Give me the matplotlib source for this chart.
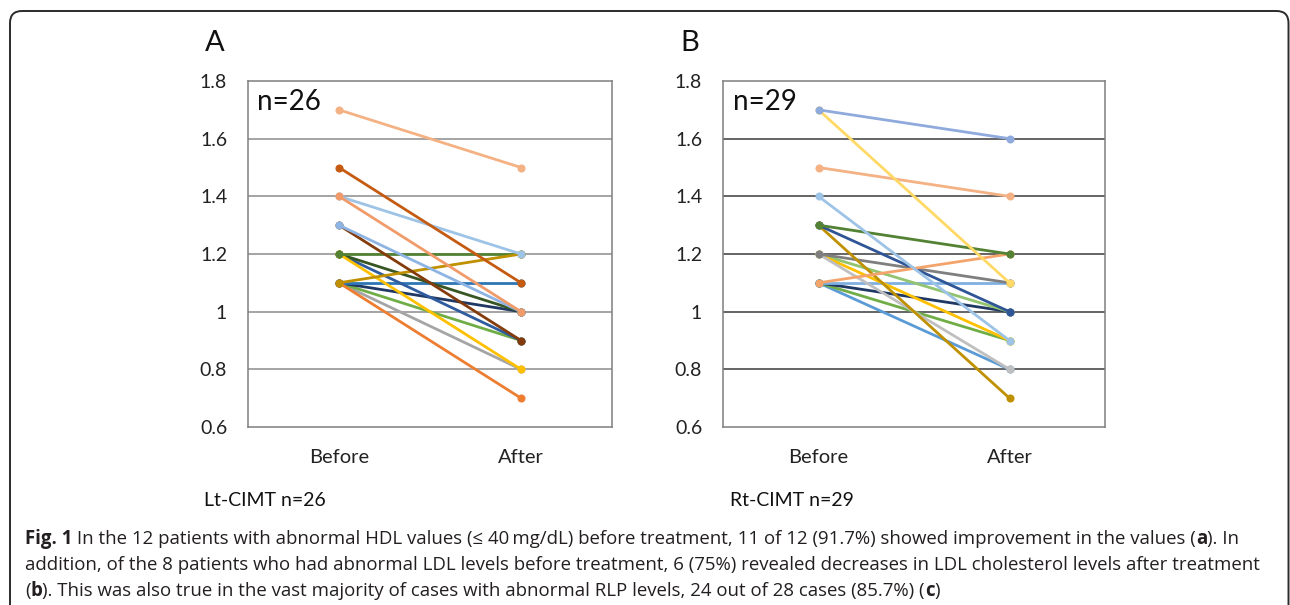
import matplotlib
matplotlib.use('Agg')
import matplotlib.pyplot as plt
from matplotlib.patches import FancyBboxPatch
import numpy as np

# panel A (Lt-CIMT) : before / after values of each visible line
a_before = [1.1, 1.1, 1.1, 1.1, 1.2, 1.2, 1.2, 1.2, 1.1, 1.1, 1.3, 1.3, 1.4, 1.4, 1.5, 1.7]
a_after  = [0.8, 0.9, 1.0, 1.1, 0.9, 1.0, 0.8, 1.2, 0.7, 1.2, 0.9, 1.0, 1.2, 1.0, 1.1, 1.5]
a_colors = ['#A5A5A5', '#70AD47', '#1F3864', '#2E75B6', '#2E5C9E', '#375623', '#FFC000', '#548235',
            '#ED7D31', '#BF9000', '#843C0C', '#8EB4E3', '#9DC3E6', '#F19B6A', '#C55A11', '#F4B183']

# panel B (Rt-CIMT)
b_before = [1.1, 1.1, 1.1, 1.1, 1.2, 1.2, 1.2, 1.2, 1.3, 1.3, 1.1, 1.3, 1.4, 1.5, 1.7, 1.7]
b_after  = [0.8, 0.9, 1.0, 1.1, 1.0, 0.9, 0.8, 1.1, 0.7, 1.0, 1.2, 1.2, 0.9, 1.4, 1.1, 1.6]
b_colors = ['#5B9BD5', '#70AD47', '#1F3864', '#7FB0E0', '#92C36E', '#FFC000', '#BFBFBF', '#7F7F7F',
            '#BF9000', '#2F5597', '#F4A46B', '#548235', '#9DC3E6', '#F4B183', '#FFD966', '#8FAADC']

categories = ['Before', 'After']
yticks = [0.6, 0.8, 1.0, 1.2, 1.4, 1.6, 1.8]
yticklabels = ['0.6', '0.8', '1', '1.2', '1.4', '1.6', '1.8']

W, H = 1290, 605
fig = plt.figure(figsize=(W/100, H/100), dpi=100)
lab_font = ['Lato', 'DejaVu Sans']
cap_font = ['Open Sans', 'DejaVu Sans']

def panel(rect, before, after, colors, gridcol, ntext):
    ax = fig.add_axes(rect)
    xpos = np.arange(len(categories))
    for b, a, c in zip(before, after, colors):
        ax.plot(xpos, [b, a], color=c, lw=2.0, marker='o', ms=4.8, mec=c, mfc=c, zorder=3,
                solid_capstyle='round')
    ax.set_xlim(-0.5, 1.5)
    ax.set_ylim(0.6, 1.8)
    ax.set_yticks(yticks)
    ax.set_yticklabels(yticklabels, family=lab_font, fontsize=14)
    ax.set_xticks(xpos)
    ax.set_xticklabels(categories, family=lab_font, fontsize=14.5)
    ax.tick_params(axis='y', length=0, pad=15, colors='#222222')
    ax.tick_params(axis='x', length=0, pad=16, colors='#222222')
    for yv in yticks[1:-1]:
        ax.axhline(yv, color=gridcol, lw=1.1, zorder=1)
    for s in ax.spines.values():
        s.set_color('#7F7F7F')
        s.set_linewidth(1.1)
    ax.text(0.025, 0.94, ntext, transform=ax.transAxes, family=lab_font, fontsize=20,
            va='center', ha='left', color='#111111')
    return ax

axA = panel([248/W, 1-427/H, 364/W, 346/H], a_before, a_after, a_colors, '#8C8C8C', 'n=26')
axB = panel([723/W, 1-427/H, 382/W, 346/H], b_before, b_after, b_colors, '#3A3A3A', 'n=29')

fig.text(215/W, 1-43/H, 'A', family=lab_font, fontsize=21, ha='center', va='center', color='#111111')
fig.text(690/W, 1-43/H, 'B', family=lab_font, fontsize=21, ha='center', va='center', color='#111111')
fig.text(204/W, 1-500/H, 'Lt-CIMT n=26', family=lab_font, fontsize=14, ha='left', va='center', color='#111111')
fig.text(730/W, 1-500/H, 'Rt-CIMT n=29', family=lab_font, fontsize=14, ha='left', va='center', color='#111111')

# rounded outer frame
frame = FancyBboxPatch((0.10, -0.6), 12.785, 5.94 + 0.6, boxstyle='round,pad=0,rounding_size=0.12',
                       transform=fig.dpi_scale_trans, fill=False, ec='#2b2b2b', lw=1.4)
fig.add_artist(frame)

# caption with bold pieces
cap_lines = [
    [('Fig. 1', True), (' In the 12 patients with abnormal HDL values (\u2264 40\u2009mg/dL) before treatment, 11 of 12 (91.7%) showed improvement in the values (', False), ('a', True), ('). In', False)],
    [('addition, of the 8 patients who had abnormal LDL levels before treatment, 6 (75%) revealed decreases in LDL cholesterol levels after treatment', False)],
    [('(', False), ('b', True), ('). This was also true in the vast majority of cases with abnormal RLP levels, 24 out of 28 cases (85.7%) (', False), ('c', True), (')', False)],
]
cap_y = [539, 565, 591]
renderer = fig.canvas.get_renderer()
for segs, yy in zip(cap_lines, cap_y):
    x = 25
    for txt, bold in segs:
        t = fig.text(x/W, 1-yy/H, txt, family=cap_font, fontsize=13.4, ha='left', va='center',
                     weight='bold' if bold else 'normal', color='#231F20')
        bb = t.get_window_extent(renderer)
        x += bb.width

fig.savefig('out.png', dpi=100)
